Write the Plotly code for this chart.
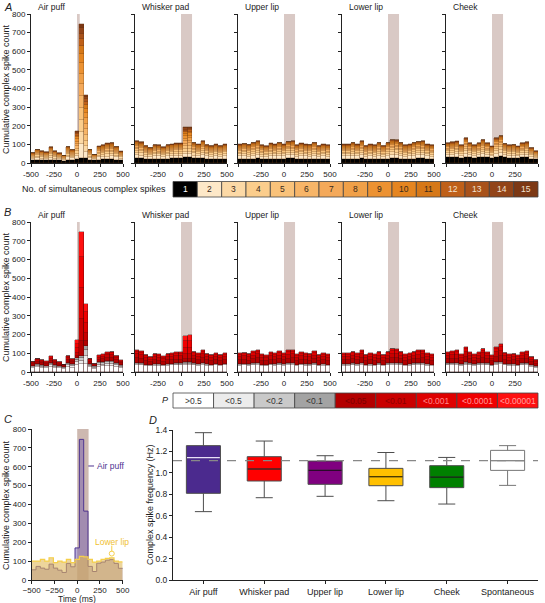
import numpy as np
import plotly.graph_objects as go

FONT = "Liberation Sans, Arial, Helvetica, sans-serif"
W, H = 545, 603

PANEL_TITLES = ["Air puff", "Whisker pad", "Upper lip", "Lower lip", "Cheek"]
TIME_TICKS = [-500, -250, 0, 250, 500]
COUNT_TICKS = [0, 100, 200, 300, 400, 500, 600, 700, 800]

# Cumulative complex spike count per bin (21 bins from -500 to 500 ms)
AIR_PUFF = [54, 72, 63, 57, 84, 63, 52, 40, 88, 70, 170, 745, 365, 72, 45, 89, 95, 105, 108, 88, 62]
WHISKER_PAD = [118, 111, 91, 82, 97, 95, 84, 97, 100, 105, 105, 191, 195, 109, 100, 118, 97, 91, 100, 91, 100]
UPPER_LIP = [100, 104, 98, 110, 118, 95, 90, 105, 100, 110, 100, 115, 118, 95, 105, 100, 98, 110, 92, 100, 95]
LOWER_LIP = [100, 100, 109, 100, 118, 92, 100, 95, 109, 92, 109, 125, 122, 109, 95, 100, 109, 115, 118, 100, 96]
CHEEK = [107, 111, 116, 95, 134, 107, 95, 107, 125, 107, 89, 134, 147, 104, 95, 98, 89, 107, 111, 80, 63]

# Counts with a single complex spike (category 1, black)
AIR_PUFF_N1 = [15, 18, 16, 15, 18, 16, 14, 12, 18, 17, 22, 28, 25, 18, 14, 18, 20, 20, 20, 18, 15]
WHISKER_PAD_N1 = [25, 25, 22, 22, 24, 24, 22, 24, 25, 26, 26, 30, 30, 26, 25, 27, 24, 22, 24, 22, 24]
UPPER_LIP_N1 = [22, 24, 22, 24, 25, 22, 20, 24, 22, 24, 22, 25, 26, 22, 24, 22, 22, 24, 20, 22, 22]
LOWER_LIP_N1 = [22, 22, 24, 22, 25, 20, 22, 20, 24, 20, 24, 26, 26, 24, 20, 22, 24, 25, 26, 22, 20]
CHEEK_N1 = [30, 30, 32, 28, 34, 30, 28, 30, 32, 30, 26, 34, 36, 30, 28, 28, 26, 30, 30, 24, 20]

# Panel B: counts from cells with P > 0.5 (white) and 0.05 <= P < 0.5 (greys)
AIR_PUFF_WHITE = [22, 25, 22, 20, 28, 22, 20, 16, 28, 24, 40, 45, 45, 26, 18, 28, 30, 32, 34, 28, 22]
AIR_PUFF_GREY = [12, 18, 15, 14, 20, 15, 12, 10, 22, 18, 35, 40, 95, 18, 12, 24, 25, 28, 26, 22, 16]
WHISKER_PAD_WHITE = [38, 36, 32, 30, 34, 34, 30, 34, 35, 36, 36, 40, 40, 36, 34, 38, 34, 32, 35, 32, 35]
WHISKER_PAD_GREY = [10, 10, 8, 8, 9, 9, 8, 9, 10, 10, 10, 12, 12, 10, 9, 10, 9, 8, 9, 8, 9]
UPPER_LIP_WHITE = [34, 35, 33, 36, 38, 32, 31, 35, 34, 36, 34, 37, 38, 32, 35, 34, 33, 36, 31, 34, 32]
UPPER_LIP_GREY = [9, 9, 8, 10, 10, 8, 8, 9, 9, 10, 9, 10, 10, 8, 9, 9, 8, 10, 8, 9, 8]
LOWER_LIP_WHITE = [34, 34, 36, 34, 38, 32, 34, 32, 36, 32, 36, 38, 38, 36, 32, 34, 36, 37, 38, 34, 32]
LOWER_LIP_GREY = [9, 9, 10, 9, 10, 8, 9, 8, 10, 8, 10, 10, 10, 10, 8, 9, 10, 10, 10, 9, 8]
CHEEK_WHITE = [36, 37, 38, 33, 40, 36, 33, 36, 39, 36, 31, 40, 42, 35, 33, 34, 31, 36, 37, 29, 24]
CHEEK_GREY = [10, 10, 10, 9, 11, 10, 9, 10, 11, 10, 8, 11, 12, 10, 9, 9, 8, 10, 10, 8, 7]

# Typical share of categories 2..15 among multi-spike counts (baseline bins / response bins)
SPIKE_SHARE_BASE = [0.17, 0.14, 0.12, 0.10, 0.09, 0.08, 0.07, 0.06, 0.05, 0.04, 0.03, 0.02, 0.02, 0.01]
SPIKE_SHARE_PEAK = [0.10, 0.09, 0.09, 0.09, 0.09, 0.09, 0.08, 0.08, 0.07, 0.06, 0.05, 0.04, 0.04, 0.03]
GREY_SPLIT = [0.40, 0.35, 0.25]
RED_SHARE_BASE = [0.35, 0.30, 0.20, 0.10, 0.05]
RED_SHARE_PEAK = [0.12, 0.18, 0.25, 0.25, 0.20]

STIM_END = [30, 120, 120, 120, 120]
STIM_END_C = 125

SPIKE_LABELS = [str(i) for i in range(1, 16)]
SPIKE_COLORS = ["#000000", "#fde8c8", "#fcd9a6", "#fbcd8c", "#f9c27a", "#f7b568", "#f4a95a",
                "#f0a048", "#ec9232", "#e58520", "#d67818", "#bf6019", "#a8521b", "#924418", "#7c3814"]
P_LABELS = [">0.5", "<0.5", "<0.2", "<0.1", "<0.05", "<0.01", "<0.001", "<0.0001", "<0.00001"]
P_COLORS = ["#ffffff", "#ececec", "#c9c9c9", "#a3a3a3", "#b30000", "#c90000", "#df0000", "#f00000", "#ff1010"]

BOX_CATEGORIES = ["Air puff", "Whisker pad", "Upper lip", "Lower lip", "Cheek", "Spontaneous"]
BOX_LOW = [0.638, 0.768, 0.781, 0.740, 0.709, 0.883]
BOX_Q1 = [0.809, 0.924, 0.893, 0.880, 0.862, 1.023]
BOX_MED = [1.142, 1.036, 1.024, 0.964, 0.961, 1.114]
BOX_Q3 = [1.254, 1.151, 1.110, 1.042, 1.067, 1.210]
BOX_HIGH = [1.375, 1.297, 1.160, 1.190, 1.144, 1.254]
SPONT_LEVEL = 1.114
BOX_COLORS = ["#4b2a8e", "#ff0000", "#800080", "#ffc000", "#008000", "#ffffff"]
MEDIAN_COLORS = ["#e8e0f8", "#3a1010", "#2a0a2a", "#4a3a00", "#0a2a0a", "#888888"]

TOTALS = [AIR_PUFF, WHISKER_PAD, UPPER_LIP, LOWER_LIP, CHEEK]
N1 = [AIR_PUFF_N1, WHISKER_PAD_N1, UPPER_LIP_N1, LOWER_LIP_N1, CHEEK_N1]
WHITES = [AIR_PUFF_WHITE, WHISKER_PAD_WHITE, UPPER_LIP_WHITE, LOWER_LIP_WHITE, CHEEK_WHITE]
GREYS = [AIR_PUFF_GREY, WHISKER_PAD_GREY, UPPER_LIP_GREY, LOWER_LIP_GREY, CHEEK_GREY]

NB = len(AIR_PUFF)
edges = np.linspace(-500, 500, NB + 1)
centers = (edges[:-1] + edges[1:]) / 2
bw = 1000 / NB


def ax(n, kind):
    return (kind if n == 1 else f"{kind}{n}")


def dom_x(x0, x1):
    return [x0 / W, x1 / W]


def dom_y(top, bot):
    return [1 - bot / H, 1 - top / H]


fig = go.Figure()
layout = {}
shapes = []
annotations = []

base_axis = dict(showline=True, linecolor="#222", linewidth=1, ticks="outside", ticklen=3,
                 tickwidth=1, tickcolor="#222", showgrid=False, zeroline=False, automargin=False,
                 tickfont=dict(size=8, family=FONT, color="#222"), fixedrange=True)

PANEL_X = [(31, 123), (135, 227), (238, 330), (342, 434), (446, 538)]
ROWS = [(14, 163), (222, 372)]

for row in range(2):
    for p in range(5):
        n = row * 5 + p + 1
        xa, ya = ax(n, "x"), ax(n, "y")
        tot = np.array(TOTALS[p], float)
        segs = []
        if row == 0:
            n1 = np.array(N1[p], float)
            segs.append((n1, SPIKE_COLORS[0], SPIKE_LABELS[0]))
            rest = tot - n1
            for k in range(14):
                sb = np.array([SPIKE_SHARE_PEAK[k] / sum(SPIKE_SHARE_PEAK) if t > 150 else
                               SPIKE_SHARE_BASE[k] / sum(SPIKE_SHARE_BASE) for t in tot])
                segs.append((rest * sb, SPIKE_COLORS[k + 1], SPIKE_LABELS[k + 1]))
            lc = "rgba(90,50,15,0.55)"
        else:
            wh = np.array(WHITES[p], float)
            gr = np.array(GREYS[p], float)
            segs.append((wh, P_COLORS[0], P_LABELS[0]))
            for k in range(3):
                segs.append((gr * GREY_SPLIT[k], P_COLORS[k + 1], P_LABELS[k + 1]))
            red = tot - wh - gr
            for k in range(5):
                sb = np.array([RED_SHARE_PEAK[k] if t > 150 else RED_SHARE_BASE[k] for t in tot])
                segs.append((red * sb, P_COLORS[k + 4], P_LABELS[k + 4]))
            lc = "rgba(50,10,10,0.7)"
        for vals, col, name in segs:
            fig.add_trace(go.Bar(x=centers, y=vals, width=bw, marker=dict(color=col, line=dict(color=lc, width=0.45)),
                                 xaxis=xa, yaxis=ya, showlegend=False, name=name))
        x0, x1 = PANEL_X[p]
        top, bot = ROWS[row]
        xt = ["-500", "-250", "0", "250", "500"] if p == 0 else ["", "-250", "0", "250", "500"]
        layout["xaxis" if n == 1 else f"xaxis{n}"] = dict(base_axis, domain=dom_x(x0, x1), anchor=ya,
                                                          range=[-500, 500], tickvals=TIME_TICKS, ticktext=xt)
        layout["yaxis" if n == 1 else f"yaxis{n}"] = dict(base_axis, domain=dom_y(top, bot), anchor=xa,
                                                          range=[0, 800], tickvals=COUNT_TICKS,
                                                          showticklabels=(p == 0))
        shapes.append(dict(type="rect", xref=xa, yref=ya, x0=0, x1=STIM_END[p], y0=0, y1=800,
                           fillcolor="#d9c9c5", line=dict(width=0), layer="below"))
        annotations.append(dict(text=PANEL_TITLES[p], x=(x0 + 5) / W, y=1 - (top - 7) / H, xref="paper",
                                yref="paper", showarrow=False, xanchor="left", yanchor="middle",
                                font=dict(size=8.5, family=FONT, color="#222")))

# Panel C
n = 11
xa, ya = ax(n, "x"), ax(n, "y")
xs = list(edges)
ap = list(AIR_PUFF) + [AIR_PUFF[-1]]
ll = list(LOWER_LIP) + [LOWER_LIP[-1]]
fig.add_trace(go.Scatter(x=xs, y=ap, mode="lines", line=dict(shape="hv", color="#4e3490", width=1),
                         fill="tozeroy", fillcolor="rgba(120,95,175,0.5)", xaxis=xa, yaxis=ya, showlegend=False))
fig.add_trace(go.Scatter(x=xs, y=ll, mode="lines", line=dict(shape="hv", color="#f5cf4a", width=1.2),
                         fill="tozeroy", fillcolor="rgba(225,185,90,0.6)", xaxis=xa, yaxis=ya, showlegend=False))
fig.add_trace(go.Scatter(x=[380], y=[140], mode="markers",
                         marker=dict(symbol="circle-open", size=5, color="#f5cf4a", line=dict(width=1)),
                         xaxis=xa, yaxis=ya, showlegend=False))
layout["xaxis11"] = dict(base_axis, domain=dom_x(31.7, 122.7), anchor=ya, range=[-500, 500],
                         tickvals=TIME_TICKS, ticklen=2.5)
layout["yaxis11"] = dict(base_axis, domain=dom_y(429, 580), anchor=xa, range=[0, 800], tickvals=COUNT_TICKS)
annotations.append(dict(text="Time (ms)", x=77 / W, y=1 - 598.5 / H, xref="paper", yref="paper", showarrow=False,
                        xanchor="center", yanchor="middle", font=dict(size=8.5, family=FONT, color="#222")))
shapes.append(dict(type="rect", xref=xa, yref=ya, x0=0, x1=STIM_END_C, y0=0, y1=800,
                   fillcolor="#cdb8b0", line=dict(width=0), layer="below"))
shapes.append(dict(type="line", xref=xa, yref=ya, x0=122, x1=185, y0=604, y1=604,
                   line=dict(color="#4e3490", width=1)))
shapes.append(dict(type="line", xref=xa, yref=ya, x0=380, x1=380, y0=150, y1=182,
                   line=dict(color="#f5cf4a", width=1)))
annotations.append(dict(text="Air puff", x=192, y=604, xref=xa, yref=ya, showarrow=False, xanchor="left",
                        yanchor="middle", font=dict(size=8.5, family=FONT, color="#4e3490")))
annotations.append(dict(text="Lower lip", x=380, y=200, xref=xa, yref=ya, showarrow=False, xanchor="center",
                        yanchor="middle", font=dict(size=8.5, family=FONT, color="#f0c030")))

# Panel D
n = 12
xa, ya = ax(n, "x"), ax(n, "y")
for i, cat in enumerate(BOX_CATEGORIES):
    lcol = "#777777" if i == 5 else "#4d4d4d"
    fig.add_trace(go.Box(x=[cat], q1=[BOX_Q1[i]], median=[BOX_MED[i]], q3=[BOX_Q3[i]],
                         lowerfence=[BOX_LOW[i]], upperfence=[BOX_HIGH[i]], width=0.56, whiskerwidth=0.5,
                         fillcolor=BOX_COLORS[i], line=dict(color=lcol, width=1), xaxis=xa, yaxis=ya,
                         showlegend=False, boxpoints=False))
    shapes.append(dict(type="line", xref=xa, yref=ya, x0=i - 0.27, x1=i + 0.27, y0=BOX_MED[i], y1=BOX_MED[i],
                       line=dict(color=MEDIAN_COLORS[i], width=1.2)))
shapes.append(dict(type="line", xref=f"{xa} domain", yref=ya, x0=0, x1=1, y0=SPONT_LEVEL, y1=SPONT_LEVEL,
                   line=dict(color="#888888", width=1.2, dash="dash")))
layout["xaxis12"] = dict(base_axis, domain=dom_x(173, 538), anchor=ya, type="category",
                         categoryorder="array", categoryarray=BOX_CATEGORIES, range=[-0.5, 5.5],
                         tickfont=dict(size=9, family=FONT, color="#222"))
layout["yaxis12"] = dict(base_axis, domain=dom_y(430, 580), anchor=xa, range=[0, 1.4],
                         tickvals=[0, 0.2, 0.4, 0.6, 0.8, 1.0, 1.2, 1.4], tickformat=".1f",
                         tickfont=dict(size=8.5, family=FONT, color="#222"))

# Legend strips
def strip(labels, colors, x0, x1, top, bot, txtcols, fsize):
    wbox = (x1 - x0) / len(labels)
    for i, (lab, col) in enumerate(zip(labels, colors)):
        a = x0 + i * wbox
        shapes.append(dict(type="rect", xref="paper", yref="paper", x0=a / W, x1=(a + wbox) / W,
                           y0=1 - bot / H, y1=1 - top / H, fillcolor=col, line=dict(color="#444", width=0.8)))
        annotations.append(dict(text=lab, x=(a + wbox / 2) / W, y=1 - (top + bot) / 2 / H, xref="paper",
                                yref="paper", showarrow=False, xanchor="center", yanchor="middle",
                                font=dict(size=fsize, family=FONT, color=txtcols[i])))

strip(SPIKE_LABELS, SPIKE_COLORS, 173, 538, 181.5, 197, ["#ffffff"] + ["#3a2a1a"] * 10 + ["#f3e2d0"] * 4, 8.5)
strip(P_LABELS, P_COLORS, 173, 538, 393, 408, ["#333"] * 4 + ["#7a0000", "#8a0000", "#ff8a8a", "#ff9a9a", "#ffa0a0"], 8.5)
annotations.append(dict(text="No. of simultaneous complex spikes", x=168 / W, y=1 - 189 / H, xref="paper",
                        yref="paper", showarrow=False, xanchor="right", yanchor="middle",
                        font=dict(size=9, family=FONT, color="#222")))
annotations.append(dict(text="<i>P</i>", x=165 / W, y=1 - 400 / H, xref="paper", yref="paper", showarrow=False,
                        xanchor="center", yanchor="middle", font=dict(size=9, family=FONT, color="#222")))

# Panel letters and y titles
for letter, (lx, ly) in zip("ABCD", [(2, 7), (2, 212), (2, 419), (147, 420)]):
    annotations.append(dict(text=f"<i>{letter}</i>", x=lx / W, y=1 - ly / H, xref="paper", yref="paper",
                            showarrow=False, xanchor="left", yanchor="middle",
                            font=dict(size=11, family=FONT, color="#222")))
for (yx, yy, txt) in [(6, 89, "Cumulative complex spike count"), (6, 297, "Cumulative complex spike count"),
                      (6, 505, "Cumulative complex spike count"), (150, 505, "Complex spike frequency (Hz)")]:
    annotations.append(dict(text=txt, x=yx / W, y=1 - yy / H, xref="paper", yref="paper", showarrow=False,
                            textangle=-90, xanchor="center", yanchor="middle",
                            font=dict(size=9, family=FONT, color="#222")))

fig.update_layout(**layout)
fig.update_layout(width=W, height=H, autosize=False,
                  margin=dict(l=0, r=0, t=0, b=0, pad=0, autoexpand=False),
                  paper_bgcolor="white", plot_bgcolor="white", barmode="stack", bargap=0,
                  shapes=shapes, annotations=annotations, showlegend=False,
                  font=dict(family=FONT, size=9, color="#222"))
fig.write_html("out.html", config={"displayModeBar": False},
               post_script="document.body.style.margin='0px';document.body.style.padding='0px';"
                           "document.body.style.overflow='hidden';")
